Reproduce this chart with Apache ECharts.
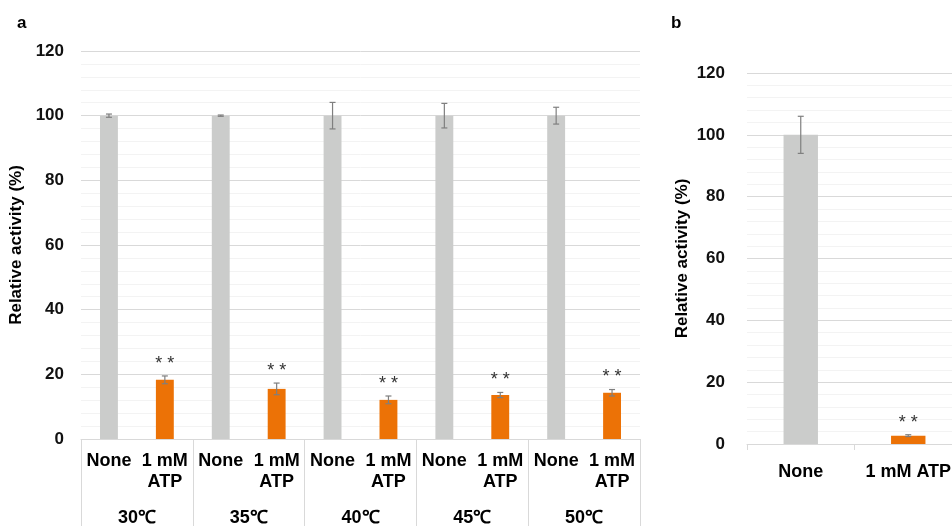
<!DOCTYPE html>
<html>
<head>
<meta charset="utf-8">
<script src="https://cdn.jsdelivr.net/npm/echarts@6/dist/echarts.min.js"></script>
<style>html,body{margin:0;padding:0;background:#fff}#c{width:952px;height:526px}</style>
</head>
<body>
<div id="c"></div>
<script>
// ---- data ----
var conditionsA = ['None', '1 mM\nATP'];
var temps = ['30\u2103', '35\u2103', '40\u2103', '45\u2103', '50\u2103'];
var noneValuesA = [100, 100, 100, 100, 100];
var noneErrA = [0.5, 0.2, 4.1, 3.8, 2.6];
var atpValuesA = [18.3, 15.5, 12.1, 13.6, 14.3];
var atpErrA = [1.2, 1.8, 1.2, 0.8, 1.0];
var atpSigA = ['**', '**', '**', '**', '**'];

var conditionsB = ['None', '1 mM ATP'];
var valuesB = [100, 2.7];
var errB = [6.0, 0.3];
var sigB = ['', '**'];

var yTicks = [0, 20, 40, 60, 80, 100, 120];

// ---- styles ----
var FONT = '"Liberation Sans", Arial, sans-serif';
var GRAY = '#cbcccb';
var ORANGE = '#ec7206';
var ERR = '#7f7f7f';
var GRID = '#d9d9d9';
var MINOR = '#f3f3f3';

// build panel a
var catsA = [], barA = [], errA = [];
temps.forEach(function (t, i) {
  catsA.push(conditionsA[0]); catsA.push(conditionsA[1]);
  barA.push({ value: noneValuesA[i], itemStyle: { color: GRAY } });
  barA.push({ value: atpValuesA[i], itemStyle: { color: ORANGE } });
  errA.push([2 * i, noneValuesA[i] - noneErrA[i], noneValuesA[i] + noneErrA[i], '']);
  errA.push([2 * i + 1, atpValuesA[i] - atpErrA[i], atpValuesA[i] + atpErrA[i], atpSigA[i]]);
});
var barB = valuesB.map(function (v, i) { return { value: v, itemStyle: { color: i === 0 ? GRAY : ORANGE } }; });
var errBdata = valuesB.map(function (v, i) { return [i, v - errB[i], v + errB[i], sigB[i]]; });

function errRender(params, api) {
  var x = api.value(0);
  var lo = api.coord([x, api.value(1)]);
  var hi = api.coord([x, api.value(2)]);
  var sig = api.value(3);
  var cap = 3;
  var st = { stroke: ERR, lineWidth: 1.2 };
  var children = [
    { type: 'line', shape: { x1: lo[0], y1: lo[1], x2: hi[0], y2: hi[1] }, style: st },
    { type: 'line', shape: { x1: lo[0] - cap, y1: lo[1], x2: lo[0] + cap, y2: lo[1] }, style: st },
    { type: 'line', shape: { x1: hi[0] - cap, y1: hi[1], x2: hi[0] + cap, y2: hi[1] }, style: st }
  ];
  if (sig) {
    children.push({ type: 'text', x: hi[0], y: hi[1] - 3,
      style: { text: sig.split('').join(' '), fill: '#333', font: '18px ' + FONT, align: 'center', verticalAlign: 'bottom' } });
  }
  return { type: 'group', children: children };
}

function yAxisCfg(gridIndex, margin, gap) {
  return {
    type: 'value', gridIndex: gridIndex, min: yTicks[0], max: yTicks[yTicks.length - 1], interval: yTicks[1] - yTicks[0],
    name: 'Relative activity (%)', nameLocation: 'middle', nameRotate: 90, nameGap: gap,
    nameTextStyle: { fontFamily: FONT, fontWeight: 'bold', fontSize: 17, color: '#000' },
    axisLine: { show: false }, axisTick: { show: false },
    axisLabel: { margin: margin, fontFamily: FONT, fontWeight: 'bold', fontSize: 17, color: '#111' },
    splitLine: { lineStyle: { color: GRID, width: 1 } },
    minorTick: { show: false, splitNumber: 5 },
    minorSplitLine: { show: true, lineStyle: { color: MINOR, width: 1 } }
  };
}

var chart = echarts.init(document.getElementById('c'));
chart.setOption({
  animation: false,
  backgroundColor: '#fff',
  title: [
    { text: 'a', left: 12, top: 10, textStyle: { fontFamily: FONT, fontWeight: 'bold', fontSize: 17, color: '#000' } },
    { text: 'b', left: 666, top: 10, textStyle: { fontFamily: FONT, fontWeight: 'bold', fontSize: 17, color: '#000' } }
  ],
  grid: [
    { left: 81, top: 51, width: 559, height: 388, outerBoundsMode: 'none', containLabel: false },
    { left: 747, top: 73, width: 215, height: 371, outerBoundsMode: 'none', containLabel: false }
  ],
  xAxis: [
    { type: 'category', gridIndex: 0, data: catsA, boundaryGap: true,
      axisLine: { lineStyle: { color: GRID } }, axisTick: { show: false },
      axisLabel: { interval: 0, margin: 12, fontFamily: FONT, fontWeight: 'bold', fontSize: 18, lineHeight: 21, color: '#000' } },
    { type: 'category', gridIndex: 0, data: temps, position: 'bottom', boundaryGap: true,
      axisLine: { show: false },
      axisTick: { show: true, interval: 0, length: 90, lineStyle: { color: GRID } },
      axisLabel: { interval: 0, margin: 70, fontFamily: FONT, fontWeight: 'bold', fontSize: 18, color: '#000' } },
    { type: 'category', gridIndex: 1, data: conditionsB, boundaryGap: true,
      axisLine: { lineStyle: { color: GRID } },
      axisTick: { show: true, interval: 0, length: 6, lineStyle: { color: GRID } },
      axisLabel: { interval: 0, margin: 19, fontFamily: FONT, fontWeight: 'bold', fontSize: 18, color: '#000' } }
  ],
  yAxis: [yAxisCfg(0, 17, 46), yAxisCfg(1, 22, 56)],
  series: [
    { type: 'bar', xAxisIndex: 0, yAxisIndex: 0, data: barA, barWidth: '32%' },
    { type: 'custom', xAxisIndex: 0, yAxisIndex: 0, data: errA, renderItem: errRender, z: 5 },
    { type: 'bar', xAxisIndex: 2, yAxisIndex: 1, data: barB, barWidth: '32%' },
    { type: 'custom', xAxisIndex: 2, yAxisIndex: 1, data: errBdata, renderItem: errRender, z: 5 }
  ]
});
</script>
</body>
</html>
